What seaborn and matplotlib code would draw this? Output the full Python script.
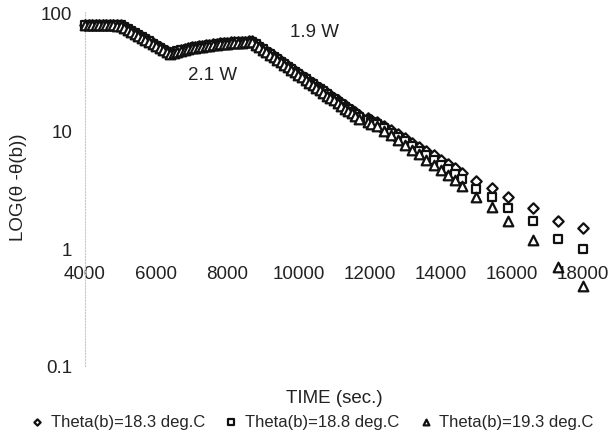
import matplotlib
matplotlib.use("Agg")
import matplotlib.pyplot as plt
from matplotlib.ticker import NullLocator
import seaborn as sns

# ---------------- data ----------------
time_sec = [
    4000, 4100, 4200, 4300, 4400, 4500, 4600, 4700, 4800, 4900, 5000,
    5100, 5200, 5300, 5400, 5500, 5600, 5700, 5800, 5900, 6000, 6100, 6200, 6300, 6400,
    6500, 6600, 6700, 6800, 6900, 7000, 7100, 7200, 7300, 7400, 7500, 7600, 7700, 7800,
    7900, 8000, 8100, 8200, 8300, 8400, 8500, 8600, 8700,
    8800, 8900, 9000, 9100, 9200, 9300, 9400, 9500, 9600, 9700, 9800, 9900, 10000,
    10100, 10200, 10300, 10400, 10500, 10600, 10700, 10800, 10900, 11000, 11100,
    11200, 11300, 11400, 11500, 11600, 11700,
    11950, 12050, 12200, 12400, 12600, 12800, 13000, 13200, 13400, 13600, 13800,
    14000, 14200, 14400, 14600, 15000, 15450, 15900, 16600, 17300, 18000,
]

theta_b_183 = [
    78.0, 78.2, 78.1, 78.3, 78.0, 78.2, 78.1, 77.9, 78.0, 77.8, 77.6,
    74.8, 72.0, 69.2, 66.5, 64.0, 61.4, 59.0, 56.8, 54.5, 52.4, 50.4, 48.4, 46.6, 45.2,
    45.8, 46.8, 47.7, 48.6, 49.4, 50.1, 50.8, 51.4, 52.0, 52.5, 53.0, 53.4, 53.8, 54.2,
    54.6, 54.9, 55.2, 55.5, 55.8, 56.0, 56.2, 56.4, 56.5,
    53.9, 51.3, 48.9, 46.6, 44.5, 42.4, 40.4, 38.5, 36.7, 35.0, 33.4, 31.8, 30.3,
    28.9, 27.5, 26.2, 25.0, 23.8, 22.7, 21.7, 20.6, 19.7, 18.8, 17.9,
    17.0, 16.2, 15.5, 14.8, 14.1, 13.4,
    12.6, 12.2, 11.8, 10.9, 10.0, 9.2, 8.5, 7.8, 7.2, 6.6, 6.1,
    5.6, 5.15, 4.75, 4.35, 3.68, 3.22, 2.69, 2.18, 1.69, 1.48,
]

theta_b_188 = [
    77.5, 77.7, 77.6, 77.8, 77.5, 77.7, 77.6, 77.4, 77.5, 77.3, 77.1,
    74.3, 71.5, 68.7, 66.0, 63.5, 60.9, 58.5, 56.3, 54.0, 51.9, 49.9, 47.9, 46.1, 44.7,
    45.3, 46.3, 47.2, 48.1, 48.9, 49.6, 50.3, 50.9, 51.5, 52.0, 52.5, 52.9, 53.3, 53.7,
    54.1, 54.4, 54.7, 55.0, 55.3, 55.5, 55.7, 55.9, 56.0,
    53.4, 50.8, 48.4, 46.1, 44.0, 41.9, 39.9, 38.0, 36.2, 34.5, 32.9, 31.3, 29.8,
    28.4, 27.0, 25.7, 24.5, 23.3, 22.2, 21.2, 20.1, 19.2, 18.3, 17.4,
    16.5, 15.7, 15.0, 14.3, 13.6, 12.9,
    12.1, 11.7, 11.3, 10.4, 9.5, 8.7, 8.0, 7.3, 6.7, 6.1, 5.6,
    5.1, 4.65, 4.25, 3.85, 3.18, 2.72, 2.19, 1.68, 1.19, 0.98,
]

theta_b_193 = [
    77.0, 77.2, 77.1, 77.3, 77.0, 77.2, 77.1, 76.9, 77.0, 76.8, 76.6,
    73.8, 71.0, 68.2, 65.5, 63.0, 60.4, 58.0, 55.8, 53.5, 51.4, 49.4, 47.4, 45.6, 44.2,
    44.8, 45.8, 46.7, 47.6, 48.4, 49.1, 49.8, 50.4, 51.0, 51.5, 52.0, 52.4, 52.8, 53.2,
    53.6, 53.9, 54.2, 54.5, 54.8, 55.0, 55.2, 55.4, 55.5,
    52.9, 50.3, 47.9, 45.6, 43.5, 41.4, 39.4, 37.5, 35.7, 34.0, 32.4, 30.8, 29.3,
    27.9, 26.5, 25.2, 24.0, 22.8, 21.7, 20.7, 19.6, 18.7, 17.8, 16.9,
    16.0, 15.2, 14.5, 13.8, 13.1, 12.4,
    11.6, 11.2, 10.8, 9.9, 9.0, 8.2, 7.5, 6.8, 6.2, 5.6, 5.1,
    4.6, 4.15, 3.75, 3.35, 2.68, 2.22, 1.69, 1.18, 0.69, 0.48,
]

series_labels = ["Theta(b)=18.3 deg.C", "Theta(b)=18.8 deg.C", "Theta(b)=19.3 deg.C"]
x_ticks = [4000, 6000, 8000, 10000, 12000, 14000, 16000, 18000]
x_tick_labels = ["4000", "6000", "8000", "10000", "12000", "14000", "16000", "18000"]
y_ticks = [0.1, 1, 10, 100]
y_tick_labels = ["0.1", "1", "10", "100"]
annotations = [("1.9 W", 9758, 67.8), ("2.1 W", 6893, 29.3)]

# ---------------- style ----------------
sns.set_theme(style="white")
plt.rcParams["font.family"] = ["Liberation Sans", "DejaVu Sans"]

W, H = 610, 439
fig = plt.figure(figsize=(W / 100, H / 100), dpi=100)
ax = fig.add_axes([85 / W, 1 - 367 / H, 498 / W, 354 / H])

marker_specs = [("D", 28), ("s", 38), ("^", 48)]
for vals, (mk, size), lab in zip([theta_b_183, theta_b_188, theta_b_193], marker_specs, series_labels):
    sns.scatterplot(x=time_sec, y=vals, marker=mk, s=size, color="white",
                    edgecolor="#111111", linewidth=1.6, ax=ax, label=lab,
                    clip_on=False, zorder=3)

ax.set_yscale("log")
ax.set_xlim(4000, 18000)
ax.set_ylim(0.1, 100)
ax.set_xticks(x_ticks)
ax.set_xticklabels(x_tick_labels)
ax.set_yticks(y_ticks)
ax.set_yticklabels(y_tick_labels)
ax.yaxis.set_minor_locator(NullLocator())
ax.xaxis.set_minor_locator(NullLocator())

for side in ["top", "right"]:
    ax.spines[side].set_visible(False)
ax.spines["bottom"].set_position(("data", 1))
ax.spines["bottom"].set_visible(False)
ax.spines["left"].set_color("#c8c8c8")
ax.spines["left"].set_linewidth(0.8)
ax.spines["left"].set_linestyle(":")

ax.tick_params(axis="x", length=0, labelsize=13.5, pad=12, colors="#222222")
ax.tick_params(axis="y", length=0, labelsize=13.5, pad=9, colors="#222222")

ax.set_xlabel("TIME (sec.)", fontsize=13.5, color="#222222", va="center")
ax.xaxis.set_label_coords(0.5, (367 - 399) / 354)
ax.set_ylabel("LOG(θ -θ(b))", fontsize=13.5, color="#222222", va="center")
ax.yaxis.set_label_coords((19 - 85) / 498, 0.508)

for txt, tx, ty in annotations:
    ax.text(tx, ty, txt, fontsize=13.5, va="center", ha="left", color="#222222")

handles, labels = ax.get_legend_handles_labels()
if ax.get_legend() is not None:
    ax.get_legend().remove()
fig.legend(handles, labels, loc="center", bbox_to_anchor=(312 / W, 1 - 423 / H),
           ncol=3, frameon=False, fontsize=12, handlelength=0.8, handletextpad=0.4,
           columnspacing=1.2, markerscale=0.6)

fig.savefig("out.png", dpi=100)
